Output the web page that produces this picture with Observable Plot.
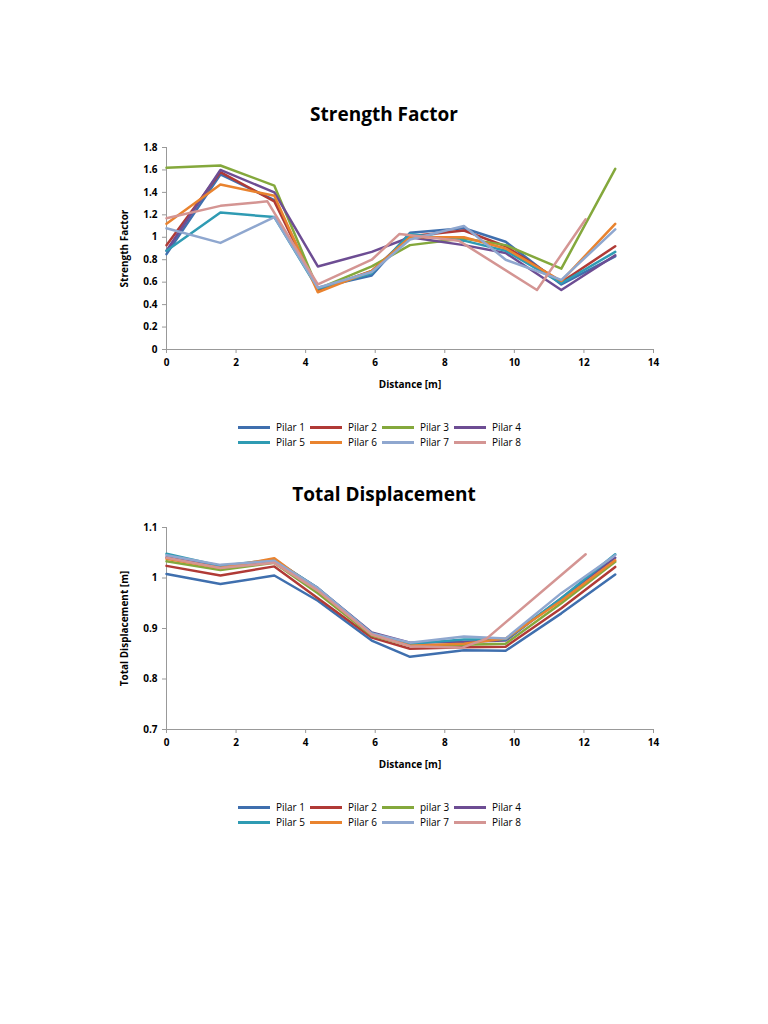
<!DOCTYPE html>
<html><head><meta charset="utf-8">
<script src="https://cdn.jsdelivr.net/npm/d3@7"></script>
<script src="https://cdn.jsdelivr.net/npm/@observablehq/plot@0.6"></script>
<style>
body{margin:0;width:768px;height:1024px;background:#fff;font-family:"Open Sans","Liberation Sans",sans-serif;position:relative;}
.title{position:absolute;left:0;width:768px;text-align:center;font-weight:bold;font-size:19px;color:#000;}
.chart{position:absolute;left:0;top:0;}
.legend{position:absolute;left:238px;display:grid;grid-template-columns:repeat(4,72px);row-gap:1px;font-size:10px;color:#000;}
.legend div{display:flex;align-items:center;height:14px;white-space:nowrap;}
.legend span.sw{display:inline-block;width:32px;height:3px;margin-right:6px;}
</style></head><body>
<div class="title" style="top:101px">Strength Factor</div>
<div class="chart" id="c1" style="top:140px"></div>
<div class="legend" id="l1" style="top:420px"></div>
<div class="title" style="top:481px">Total Displacement</div>
<div class="chart" id="c2" style="top:520px"></div>
<div class="legend" id="l2" style="top:800px"></div>
<script>
const names1 = ["Pilar 1","Pilar 2","Pilar 3","Pilar 4","Pilar 5","Pilar 6","Pilar 7","Pilar 8"];
const names2 = ["Pilar 1","Pilar 2","pilar 3","Pilar 4","Pilar 5","Pilar 6","Pilar 7","Pilar 8"];
const colors = ["#3f6fae","#b03a36","#84a83c","#6d4d93","#2f9bb3","#e9832f","#8fa7cf","#d49593"];
const xStd = [0,1.55,3.1,4.35,5.9,7.0,8.55,9.75,11.35,12.9];
const xSF8 = [0,1.55,2.9,4.35,5.9,6.7,8.4,10.65,12.05];
const xTD8 = [0,1.55,3.1,4.35,5.9,7.0,8.5,9.2,12.05];
const sf1 = [0.85,1.56,1.33,0.55,0.66,1.04,1.08,0.96,0.58,0.83];
const sf2 = [0.93,1.58,1.32,0.53,0.70,1.01,1.06,0.92,0.60,0.92];
const sf3 = [1.62,1.64,1.46,0.54,0.74,0.93,0.99,0.93,0.72,1.61];
const sf4 = [0.88,1.60,1.40,0.74,0.87,1.00,0.93,0.86,0.53,0.84];
const sf5 = [0.88,1.22,1.18,0.54,0.68,1.03,0.97,0.88,0.59,0.87];
const sf6 = [1.12,1.47,1.37,0.51,0.70,1.00,1.00,0.90,0.61,1.12];
const sf7 = [1.08,0.95,1.18,0.55,0.69,0.98,1.10,0.80,0.62,1.07];
const sf8 = [1.17,1.28,1.32,0.58,0.80,1.03,0.97,0.53,1.16];
const td1 = [1.008,0.988,1.005,0.955,0.876,0.844,0.857,0.856,0.930,1.007];
const td2 = [1.024,1.005,1.023,0.960,0.882,0.860,0.863,0.864,0.940,1.022];
const td3 = [1.033,1.016,1.030,0.970,0.886,0.866,0.868,0.870,0.950,1.032];
const td4 = [1.041,1.022,1.035,0.980,0.892,0.872,0.874,0.876,0.960,1.040];
const td5 = [1.048,1.024,1.036,0.980,0.890,0.870,0.878,0.878,0.960,1.047];
const td6 = [1.038,1.020,1.039,0.975,0.888,0.866,0.870,0.880,0.955,1.035];
const td7 = [1.045,1.026,1.034,0.980,0.890,0.872,0.884,0.880,0.970,1.045];
const td8 = [1.040,1.020,1.030,0.975,0.888,0.865,0.862,0.880,1.047];
const xTicks = [0,2,4,6,8,10,12,14];

function rows(names, xs, ys){
  const out=[];
  names.forEach((n,i)=>ys[i].forEach((v,j)=>out.push({s:n,x:xs[i][j],y:v})));
  return out;
}
const d1 = rows(names1,[xStd,xStd,xStd,xStd,xStd,xStd,xStd,xSF8],[sf1,sf2,sf3,sf4,sf5,sf6,sf7,sf8]);
const d2 = rows(names2,[xStd,xStd,xStd,xStd,xStd,xStd,xStd,xTD8],[td1,td2,td3,td4,td5,td6,td7,td8]);

function chart(data, names, yDom, yTicks, yLabel){
  return Plot.plot({
    width:768, height:260, marginTop:7, marginBottom:51, marginLeft:166, marginRight:115,
    style:{fontFamily:"'Open Sans','Liberation Sans',sans-serif",fontSize:"10px",color:"#000"},
    x:{domain:[0,14]},
    y:{domain:yDom},
    color:{domain:names,range:colors},
    marks:[
      Plot.ruleX([0],{stroke:"#999"}),
      Plot.ruleY([yDom[0]],{stroke:"#999"}),
      Plot.line(data,{x:"x",y:"y",z:"s",stroke:"s",strokeWidth:2.5,curve:"linear"}),
      Plot.axisX({ticks:xTicks,tickSize:4,stroke:"#999",tickFormat:d=>String(d),label:"Distance [m]",labelAnchor:"center",labelArrow:"none",labelOffset:38,fontWeight:"bold"}),
      Plot.axisY({ticks:yTicks,tickSize:4,stroke:"#999",tickFormat:d=>String(d),label:yLabel,labelAnchor:"center",labelArrow:"none",labelOffset:46,fontWeight:"bold"})
    ]
  });
}
function legend(el,names){
  const l=document.getElementById(el);
  names.forEach((n,i)=>{const d=document.createElement("div");
    d.innerHTML=`<span class="sw" style="background:${colors[i]}"></span>${n}`;l.appendChild(d);});
}
const c1 = chart(d1,names1,[0,1.8],[0,0.2,0.4,0.6,0.8,1,1.2,1.4,1.6,1.8],"Strength Factor");
const c2 = chart(d2,names2,[0.7,1.1],[0.7,0.8,0.9,1,1.1],"Total Displacement [m]");
document.getElementById("c1").appendChild(c1);
document.getElementById("c2").appendChild(c2);
legend("l1",names1); legend("l2",names2);
</script>
</body></html>
